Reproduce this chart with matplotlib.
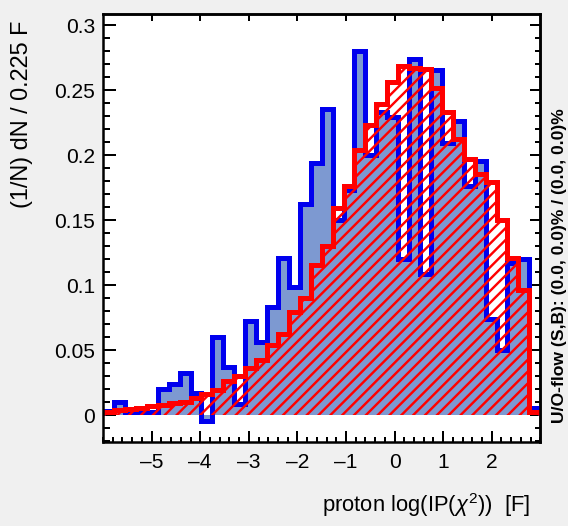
import numpy as np
import matplotlib
matplotlib.use("Agg")
import matplotlib.pyplot as plt
from matplotlib.ticker import MultipleLocator, FixedLocator

# ---------------- data ----------------
x_min, x_max, n_bins = -6.0, 3.0, 40
signal = [0.003, 0.0097, 0.002, 0.002, 0.002, 0.020, 0.024, 0.032, 0.017, -0.005,
          0.060, 0.037, 0.008, 0.072, 0.056, 0.083, 0.121, 0.098, 0.162, 0.194,
          0.235, 0.150, 0.173, 0.280, 0.200, 0.233, 0.229, 0.120, 0.274, 0.108,
          0.265, 0.209, 0.226, 0.176, 0.195, 0.074, 0.050, 0.117, 0.120, 0.005]
background = [0.0026, 0.0035, 0.0045, 0.005, 0.0065, 0.0077, 0.009, 0.010, 0.013, 0.016,
              0.019, 0.026, 0.030, 0.036, 0.042, 0.054, 0.062, 0.079, 0.090, 0.115,
              0.130, 0.159, 0.176, 0.204, 0.223, 0.239, 0.256, 0.268, 0.267, 0.266,
              0.251, 0.233, 0.212, 0.197, 0.185, 0.179, 0.150, 0.121, 0.096, 0.0026]
x_ticks = [-5, -4, -3, -2, -1, 0, 1, 2]
y_ticks = [0, 0.05, 0.1, 0.15, 0.2, 0.25, 0.3]
y_tick_labels = ["0", "0.05", "0.1", "0.15", "0.2", "0.25", "0.3"]
x_title = r"proton log(IP($\chi^{2}$))  [F]"
y_title = "(1/N) dN / 0.225 F"
flow_text = "U/O-flow (S,B): (0.0, 0.0)% / (0.0, 0.0)%"

# ---------------- style ----------------
DPI = 71
W, H = 568, 526
def px(p):
    return p * 72.0 / DPI

plt.rcParams['font.family'] = ['Liberation Sans', 'DejaVu Sans']
plt.rcParams['mathtext.fontset'] = 'custom'
plt.rcParams['mathtext.rm'] = 'Liberation Sans'
plt.rcParams['mathtext.it'] = 'Liberation Sans:italic'
plt.rcParams['hatch.linewidth'] = px(2.4)
plt.rcParams['hatch.color'] = '#ff0000'

edges = np.linspace(x_min, x_max, n_bins + 1)

fig = plt.figure(figsize=((W + 0.3) / DPI, (H + 0.3) / DPI), dpi=DPI, facecolor='#f0f0f0')
L, R, T, B = 103, 540, 14, 442
ax = fig.add_axes([L / W, 1 - B / H, (R - L) / W, (B - T) / H])
ax.set_facecolor('white')

# signal
ax.stairs(signal, edges, fill=True, color='#7d99d1', zorder=2)
ax.stairs(signal, edges, color='#0000ee', linewidth=px(5), zorder=3)
# background
ax.stairs(background, edges, fill=True, facecolor='none', edgecolor='#ff0000',
          hatch='//', linewidth=0, zorder=4)
ax.stairs(background, edges, color='#ff0000', linewidth=px(5), zorder=5)

ax.set_xlim(x_min, x_max)
ax.set_ylim(-0.0208, 0.3085)

ax.xaxis.set_major_locator(FixedLocator(x_ticks))
ax.xaxis.set_minor_locator(MultipleLocator(0.2))
ax.yaxis.set_major_locator(FixedLocator(y_ticks))
ax.yaxis.set_minor_locator(MultipleLocator(0.01))
ax.set_yticklabels(y_tick_labels)
ax.set_xticklabels([str(v) if v >= 0 else "\u2013" + str(-v) for v in x_ticks])

fs = px(21)
ax.tick_params(axis='x', which='major', direction='in', length=px(11), width=px(2),
               labelsize=fs, pad=px(11))
ax.tick_params(axis='x', which='minor', direction='in', length=px(5.5), width=px(2))
ax.tick_params(axis='y', which='major', direction='in', length=px(13), width=px(2),
               labelsize=fs, pad=px(8))
ax.tick_params(axis='y', which='minor', direction='in', length=px(6.5), width=px(2))

for s in ax.spines.values():
    s.set_linewidth(px(2.5))
    s.set_zorder(10)

sec_x = ax.secondary_xaxis('top')
sec_x.xaxis.set_major_locator(FixedLocator(x_ticks))
sec_x.tick_params(axis='x', which='major', direction='in', length=px(7), width=px(2),
                  labeltop=False)
sec_x.tick_params(axis='x', which='minor', top=False)
sec_x.spines['top'].set_linewidth(px(2.5))

sec_y = ax.secondary_yaxis('right')
sec_y.yaxis.set_major_locator(FixedLocator(y_ticks))
sec_y.yaxis.set_minor_locator(MultipleLocator(0.01))
sec_y.tick_params(axis='y', which='major', direction='in', length=px(10), width=px(2),
                  labelright=False)
sec_y.tick_params(axis='y', which='minor', direction='in', length=px(5), width=px(2))
sec_y.spines['right'].set_linewidth(px(2.5))

# titles
fig.text(530 / W, 1 - 505 / H, x_title, ha='right', va='center', fontsize=px(22))
fig.text(22 / W, 1 - 20 / H, y_title, ha='center', va='top', rotation=90, fontsize=px(23.5))
fig.text(559 / W, 1 - 265 / H, flow_text, ha='center', va='center', rotation=90,
         fontsize=px(17.5), fontweight='bold')

fig.savefig('out.png', dpi=DPI, facecolor=fig.get_facecolor())
